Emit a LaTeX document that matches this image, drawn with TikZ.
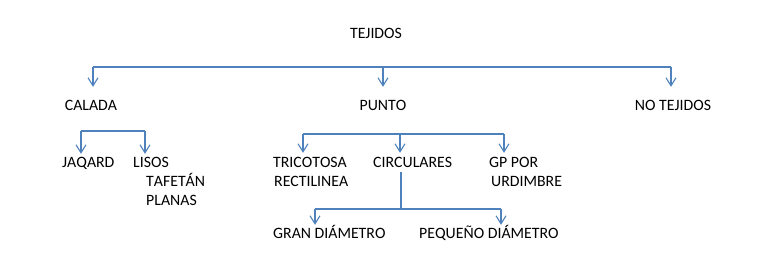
\documentclass[tikz,border=0pt]{standalone}
\usepackage{fontspec}
\setmainfont{Carlito}[Kerning=Off]
\usetikzlibrary{arrows.meta}
\definecolor{lc}{HTML}{4F81BD}
\begin{document}
\begin{tikzpicture}[x=1pt,y=-1pt,
  lbl/.style={font=\fontsize{15.8}{19}\selectfont, inner sep=2pt, text height=11pt, text depth=3pt, anchor=base west},
  ln/.style={draw=lc, line width=1.1pt},
  arr/.style={ln, -{Straight Barb[length=8pt,width=10pt,line width=1.1pt]}}]
\useasboundingbox (0,0) rectangle (768,271);
% nodes
\node[lbl,anchor=base] (tej) at (376,38) {TEJIDOS};
\node[lbl,anchor=base] (cal) at (91,110) {CALADA};
\node[lbl,anchor=base] (pun) at (383,110) {PUNTO};
\node[lbl,anchor=base] (notej) at (673,110) {NO TEJIDOS};
\node[lbl] (jaq) at (60,167) {JAQARD};
\node[lbl] (lis) at (131,167) {LISOS};
\node[lbl] (taf) at (144,186) {TAFETÁN};
\node[lbl] (plan) at (144,205) {PLANAS};
\node[lbl] (tric) at (271,167) {TRICOTOSA};
\node[lbl] (rect) at (272,186) {RECTILINEA};
\node[lbl] (circ) at (371,167) {CIRCULARES};
\node[lbl] (gp) at (487,167) {GP POR};
\node[lbl] (urd) at (489,186) {URDIMBRE};
\node[lbl] (gran) at (271,238) {GRAN DIÁMETRO};
\node[lbl] (peq) at (417,238) {PEQUEÑO DIÁMETRO};
% level 1
\coordinate (a1) at (93,67);
\coordinate (a2) at (383,67);
\coordinate (a3) at (671,67);
\draw[ln] (a1) -- (a3);
\draw[arr,shorten >=10pt] (a1) -- (a1 |- cal.north);
\draw[arr,shorten >=10pt] (a2) -- (a2 |- pun.north);
\draw[arr,shorten >=10pt] (a3) -- (a3 |- notej.north);
% calada
\coordinate (b1) at (81,131);
\coordinate (b2) at (145,131);
\draw[ln] (b1) -- (b2);
\draw[arr] (b1) -- (b1 |- jaq.north);
\draw[arr] (b2) -- (b2 |- lis.north);
% punto
\coordinate (c1) at (303,134);
\coordinate (c2) at (400,134);
\coordinate (c3) at (504,134);
\draw[ln] (c1) -- (c3);
\draw[arr,shorten >=1pt] (c1) -- (c1 |- tric.north);
\draw[arr,shorten >=1pt] (c2) -- (c2 |- circ.north);
\draw[arr,shorten >=1pt] (c3) -- (c3 |- gp.north);
% circulares
\coordinate (d0) at (401,209);
\coordinate (d1) at (315,209);
\coordinate (d3) at (501,209);
\draw[ln] (d0 |- circ.south) -- (d0);
\draw[ln] (d1) -- (d3);
\draw[arr] (d1) -- (d1 |- gran.north);
\draw[arr] (d3) -- (d3 |- peq.north);
\end{tikzpicture}
\end{document}
